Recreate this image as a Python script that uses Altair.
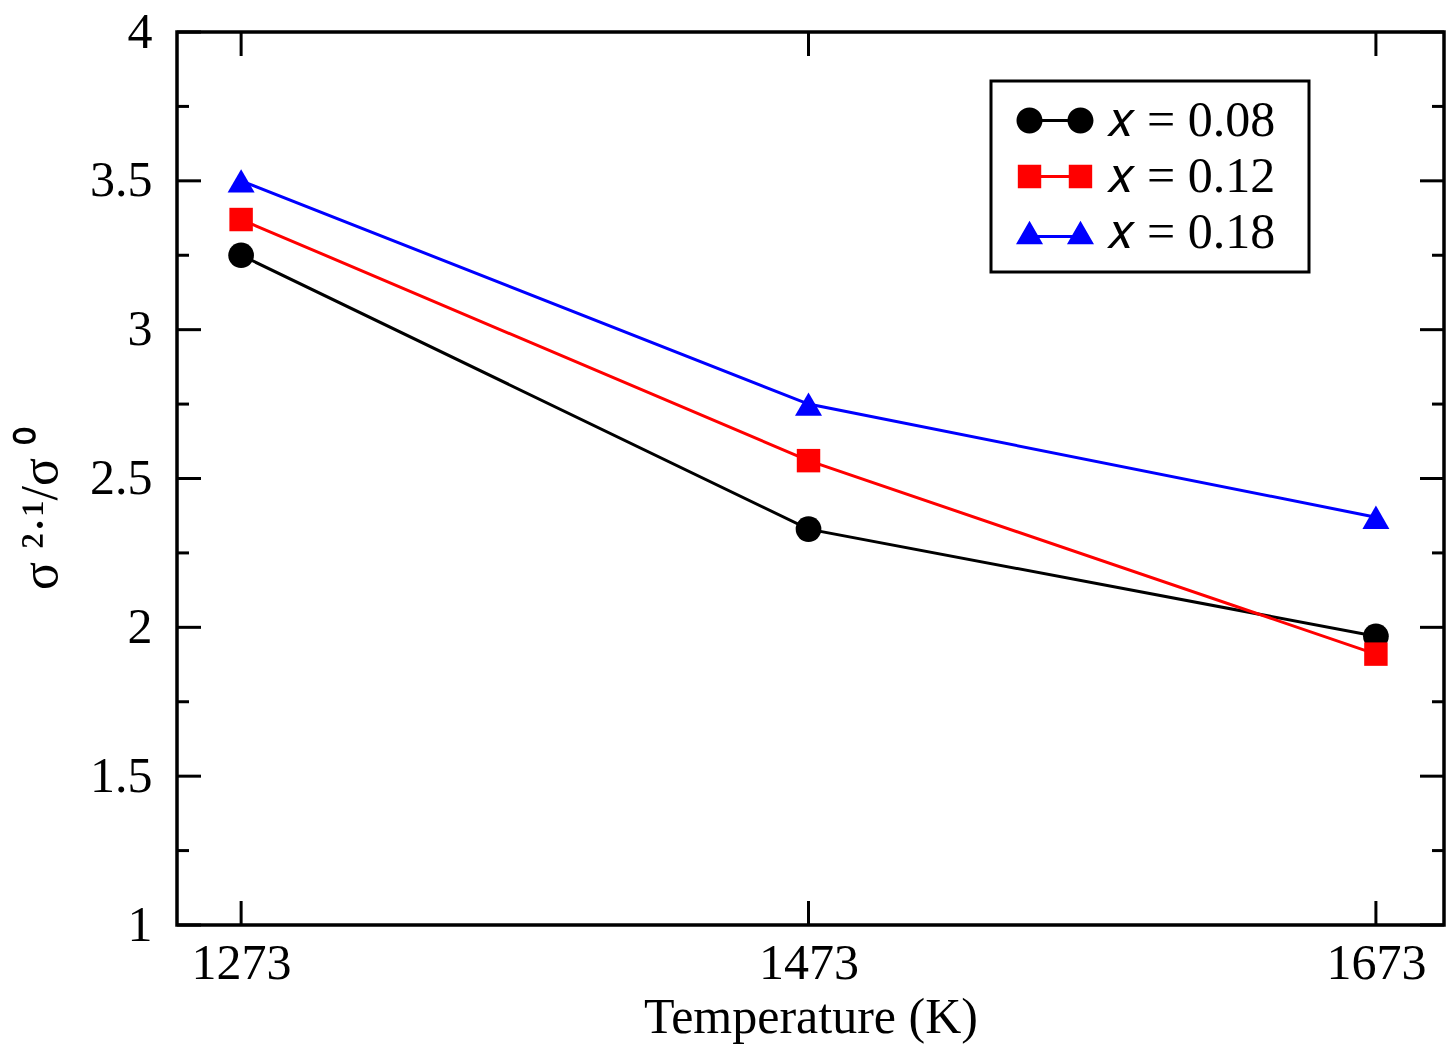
import altair as alt
import pandas as pd

# ---- data ----
temps = [1273, 1473, 1673]
labels = ["𝑥 = 0.08", "𝑥 = 0.12", "𝑥 = 0.18"]
vals_008 = [3.25, 2.33, 1.97]
vals_012 = [3.37, 2.56, 1.91]
vals_018 = [3.50, 2.75, 2.37]
colors = ["#000000", "#ff0000", "#0000ff"]
shapes = ["circle", "square", "triangle-up"]
marker_sizes = [660, 550, 729]

y_major = [1, 1.5, 2, 2.5, 3, 3.5, 4]
y_minor = [1.25, 1.75, 2.25, 2.75, 3.25, 3.75]
x_ticks = temps

W, H = 1267, 893
FONT = "Liberation Serif"

series_vals = [vals_008, vals_012, vals_018]
rows = []
for lab, vs in zip(labels, series_vals):
    for t, v in zip(temps, vs):
        rows.append({"T": t, "value": v, "series": lab})
df = pd.DataFrame(rows)

xscale = alt.Scale(domain=[1250.4, 1697], nice=False, zero=False)
yscale = alt.Scale(domain=[1, 4], nice=False, zero=False)

xaxis = alt.Axis(values=x_ticks, format="d", ticks=False, tickSize=0, domain=False, grid=False,
                 labelFont=FONT, labelFontSize=50, labelColor="black", labelPadding=13,
                 title="Temperature (K)", titleFont=FONT, titleFontSize=50,
                 titleFontWeight="normal", titleColor="black", titlePadding=4,
                 labelFlush=False)
yaxis = alt.Axis(values=y_major, format="~g", ticks=False, tickSize=0, domain=False, grid=False,
                 labelFont=FONT, labelFontSize=50, labelColor="black", labelPadding=25,
                 title="σ ²·¹/σ ⁰", titleFont=FONT, titleFontSize=52,
                 titleFontWeight="normal", titleColor="black", titleAngle=270,
                 titleX=-137, titleY=476, titleAlign="center", titleBaseline="middle",
                 labelFlush=False)

layers = []

# inward ticks drawn as rules via the scales
ymaj_df = pd.DataFrame({"v": y_major})
ymin_df = pd.DataFrame({"v": y_minor})
xt_df = pd.DataFrame({"t": x_ticks})
TW = 3
layers.append(alt.Chart(ymaj_df).mark_rule(color="black", strokeWidth=TW).encode(
    y=alt.Y("v:Q", scale=yscale, axis=yaxis), x=alt.value(0), x2=alt.value(24)))
layers.append(alt.Chart(ymaj_df).mark_rule(color="black", strokeWidth=TW).encode(
    y=alt.Y("v:Q", scale=yscale), x=alt.value(W), x2=alt.value(W - 24)))
layers.append(alt.Chart(ymin_df).mark_rule(color="black", strokeWidth=TW).encode(
    y=alt.Y("v:Q", scale=yscale), x=alt.value(0), x2=alt.value(12)))
layers.append(alt.Chart(ymin_df).mark_rule(color="black", strokeWidth=TW).encode(
    y=alt.Y("v:Q", scale=yscale), x=alt.value(W), x2=alt.value(W - 12)))
layers.append(alt.Chart(xt_df).mark_rule(color="black", strokeWidth=TW).encode(
    x=alt.X("t:Q", scale=xscale, axis=xaxis), y=alt.value(H), y2=alt.value(H - 24)))
layers.append(alt.Chart(xt_df).mark_rule(color="black", strokeWidth=TW).encode(
    x=alt.X("t:Q", scale=xscale), y=alt.value(0), y2=alt.value(24)))

for lab, col, shp, sz in zip(labels, colors, shapes, marker_sizes):
    sub = df[df["series"] == lab]
    base = alt.Chart(sub).encode(
        x=alt.X("T:Q", scale=xscale), y=alt.Y("value:Q", scale=yscale))
    layers.append(base.mark_line(color=col, strokeWidth=3))
    layers.append(base.mark_point(color=col, fill=col, filled=True, opacity=1,
                                  shape=shp, size=sz, strokeWidth=0))

# legend symbols: marker-line-marker paths (unit coordinates);
# the trailing bare move-to only widens the legend frame, it draws nothing
pad_move = " M 18.4 0"
p_circle = ("M -2.96 0 A 1 1 0 1 1 -0.96 0 A 1 1 0 1 1 -2.96 0 Z "
            "M 0.96 0 A 1 1 0 1 1 2.96 0 A 1 1 0 1 1 0.96 0 Z "
            "M -1.1 -0.115 L 1.1 -0.115 L 1.1 0.115 L -1.1 0.115 Z" + pad_move)
p_square = ("M -2.86 -0.9 L -1.06 -0.9 L -1.06 0.9 L -2.86 0.9 Z "
            "M 1.06 -0.9 L 2.86 -0.9 L 2.86 0.9 L 1.06 0.9 Z "
            "M -1.2 -0.115 L 1.2 -0.115 L 1.2 0.115 L -1.2 0.115 Z" + pad_move)
p_tri = ("M -1.96 -0.9 L -0.92 0.9 L -3.0 0.9 Z "
         "M 1.96 -0.9 L 3.0 0.9 L 0.92 0.9 Z "
         "M -1.4 0.185 L 1.4 0.185 L 1.4 0.415 L -1.4 0.415 Z" + pad_move)

leg = alt.Legend(title=None, orient="none", legendX=814, legendY=49, padding=14.5,
                 strokeColor="black", fillColor="white", cornerRadius=0,
                 symbolSize=676, symbolOffset=24.5, labelOffset=26.5, symbolOpacity=1,
                 symbolStrokeWidth=0, labelFont=FONT, labelFontSize=50, labelColor="black",
                 labelLimit=500, rowPadding=6)
layers.append(alt.Chart(df).mark_point(filled=True, opacity=0, size=676).encode(
    x=alt.X("T:Q", scale=xscale), y=alt.Y("value:Q", scale=yscale),
    color=alt.Color("series:N", scale=alt.Scale(domain=labels, range=colors), legend=leg),
    shape=alt.Shape("series:N", scale=alt.Scale(domain=labels, range=[p_circle, p_square, p_tri]), legend=leg),
))

chart = alt.layer(*layers).properties(
    width=W, height=H,
    autosize=alt.AutoSizeParams(type="none"),
    padding={"left": 169, "top": 24, "right": 2, "bottom": 122},
    background="white",
).configure_view(stroke="black", strokeWidth=3.5).configure_legend(strokeWidth=3)

chart.save("out.html", embed_options={"renderer": "svg", "actions": False})
